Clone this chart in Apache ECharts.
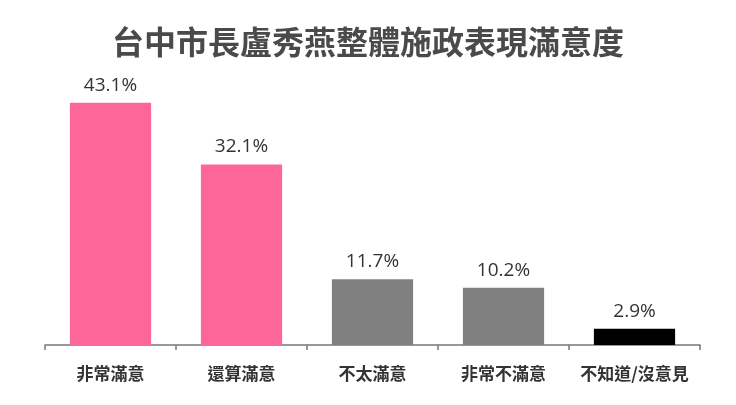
<!DOCTYPE html>
<html><head><meta charset="utf-8">
<script src="https://cdn.jsdelivr.net/npm/echarts@6/dist/echarts.min.js"></script>
<style>html,body{margin:0;padding:0;background:#fff}#c{width:736px;height:405px}</style>
</head><body><div id="c"></div>
<script>
const titleText = '台中市長盧秀燕整體施政表現滿意度';
const categories = ['非常滿意', '還算滿意', '不太滿意', '非常不滿意', '不知道/沒意見'];
const values = [43.1, 32.1, 11.7, 10.2, 2.9];
const barColors = ['#fd6699', '#fd6699', '#808080', '#808080', '#000000'];

const chart = echarts.init(document.getElementById('c'));
chart.setOption({
  backgroundColor: '#fff',
  title: {
    text: titleText, left: 'center', top: 21,
    textStyle: { fontFamily: 'Noto Sans CJK TC', fontSize: 32, fontWeight: 'bold', color: '#4a4a4a' }
  },
  grid: { left: 45, right: 36, top: 92, bottom: 60 },
  xAxis: {
    type: 'category', data: categories,
    axisLine: { lineStyle: { color: '#777', width: 1.5 } },
    axisTick: { show: true, length: 5, lineStyle: { color: '#777', width: 1.5 } },
    axisLabel: { fontFamily: 'Noto Sans CJK TC', fontSize: 17, fontWeight: 'bold', color: '#333', margin: 20, interval: 0 }
  },
  yAxis: { type: 'value', min: 0, max: 45, show: false, splitLine: { show: false } },
  series: [{
    type: 'bar', barWidth: '62%',
    data: values.map((v, i) => ({ value: v, itemStyle: { color: barColors[i] } })),
    label: {
      show: true, position: 'top', distance: 8,
      formatter: p => p.value.toFixed(1) + '%',
      fontFamily: 'Open Sans', fontSize: 19, color: '#333'
    }
  }]
});
</script></body></html>
